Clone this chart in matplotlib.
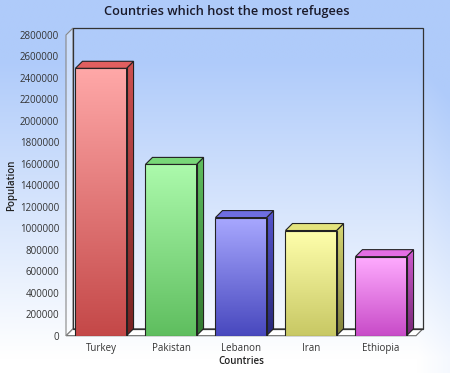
import matplotlib
matplotlib.use('Agg')
import matplotlib.pyplot as plt
from matplotlib.patches import Polygon, Rectangle
import numpy as np

countries = ['Turkey', 'Pakistan', 'Lebanon', 'Iran', 'Ethiopia']
population = [2490000, 1595000, 1100000, 979400, 736100]
y_ticks = list(range(0, 2800001, 200000))

# (front top, front bottom, side top, side bottom, top face)
bar_colors = [
    ((255, 168, 168), (196, 72, 72), (205, 80, 80), (120, 35, 35), (225, 95, 95)),
    ((172, 250, 172), (95, 190, 95), (95, 190, 95), (50, 120, 50), (120, 215, 120)),
    ((168, 168, 255), (72, 72, 190), (85, 85, 205), (40, 40, 120), (110, 110, 225)),
    ((255, 255, 172), (200, 200, 100), (215, 215, 115), (130, 130, 60), (228, 228, 125)),
    ((255, 172, 255), (200, 75, 200), (205, 90, 205), (120, 40, 120), (228, 110, 228)),
]

W, H = 450, 373
fig = plt.figure(figsize=(W / 100, H / 100), dpi=100)

# background gradient
bg = fig.add_axes([0, 0, 1, 1], zorder=-10)
yy = np.linspace(0, 1, 200)[:, None]
xx = np.linspace(0, 1, 200)[None, :]
t = np.clip((1 - yy) * 1.25 - 0.05, 0, 1) + 0.12 * np.clip(xx - 0.93, 0, 1) / 0.07 * (yy > 0.1)
t = np.clip(t, 0, 1)
top_c = np.array([175, 203, 250]) / 255
bot_c = np.array([255, 255, 255]) / 255
img = bot_c + (top_c - bot_c) * t[..., None]
bg.imshow(img, extent=[0, 1, 0, 1], aspect='auto', origin='upper')
bg.set_axis_off()

left_px, right_px, top_px, bot_px = 66, 416, 35, 335.7
ax = fig.add_axes([left_px / W, 1 - bot_px / H, (right_px - left_px) / W, (bot_px - top_px) / H])
ax.set_facecolor('none')
xmin, xmax = -0.5, len(countries) - 0.5
ymax = 2800000
px_x = (right_px - left_px) / (xmax - xmin)
px_y = (bot_px - top_px) / ymax
dx = 7 / px_x
dy = 7 / px_y


def c(rgb):
    return np.array(rgb) / 255


def grad_img(c_top, c_bot):
    g = np.linspace(0, 1, 100)[:, None, None]
    return c(c_top) + (c(c_bot) - c(c_top)) * g


# walls and floor
ax.add_patch(Polygon([(xmin, 0), (xmax, 0), (xmax + dx, dy), (xmin + dx, dy)],
                     closed=True, facecolor='white', edgecolor='#666666', lw=0.8,
                     clip_on=False, zorder=1))
ax.add_patch(Polygon([(xmin, 0), (xmin, ymax), (xmin + dx, ymax + dy), (xmin + dx, dy)],
                     closed=True, facecolor=(1, 1, 1, 0.35), edgecolor='#888888', lw=0.8,
                     clip_on=False, zorder=1))
ax.add_patch(Rectangle((xmin + dx, dy), xmax - xmin, ymax, facecolor='none',
                       edgecolor='#333333', lw=0.9, clip_on=False, zorder=1))

bw = 0.73
for i, (val, cols) in enumerate(zip(population, bar_colors)):
    x0, x1 = i - bw / 2, i + bw / 2
    ft, fb, st, sb, tp = cols
    # front face
    ax.imshow(grad_img(ft, fb), extent=[x0, x1, 0, val], aspect='auto',
              origin='upper', zorder=3, interpolation='bilinear')
    ax.add_patch(Rectangle((x0, 0), x1 - x0, val, facecolor='none',
                           edgecolor='#222222', lw=0.8, zorder=4))
    # side face
    side = Polygon([(x1, 0), (x1 + dx, dy), (x1 + dx, val + dy), (x1, val)],
                   closed=True, facecolor='none', edgecolor='#222222', lw=0.8, zorder=4)
    ax.add_patch(side)
    im = ax.imshow(grad_img(st, sb), extent=[x1, x1 + dx, 0, val + dy], aspect='auto',
                   origin='upper', zorder=3, interpolation='bilinear')
    im.set_clip_path(side)
    # top face
    ax.add_patch(Polygon([(x0, val), (x1, val), (x1 + dx, val + dy), (x0 + dx, val + dy)],
                         closed=True, facecolor=c(tp), edgecolor='#222222', lw=0.8, zorder=4))

ax.set_xlim(xmin, xmax)
ax.set_ylim(0, ymax)
for s in ax.spines.values():
    s.set_visible(False)
ax.set_xticks(range(len(countries)))
ax.set_xticklabels(countries)
ax.set_yticks(y_ticks)
ax.set_yticklabels([str(v) for v in y_ticks])
ax.tick_params(length=0, labelsize=7, colors='#333333', pad=5)
for lab in ax.get_xticklabels() + ax.get_yticklabels():
    lab.set_fontfamily('Open Sans')

fig.text(0.504, 1 - 11 / H, 'Countries which host the most refugees', ha='center', va='center',
         fontsize=9.2, fontfamily='Open Sans', fontweight='semibold', color='#1a1a2a')
fig.text(241 / W, 1 - 362 / H, 'Countries', ha='center', va='center',
         fontsize=7, fontfamily='Open Sans', fontweight='semibold', color='#222222')
fig.text(12 / W, 1 - 185 / H, 'Population', ha='center', va='center', rotation=90,
         fontsize=7, fontfamily='Open Sans', fontweight='semibold', color='#222222')

fig.savefig('out.png', dpi=100)
